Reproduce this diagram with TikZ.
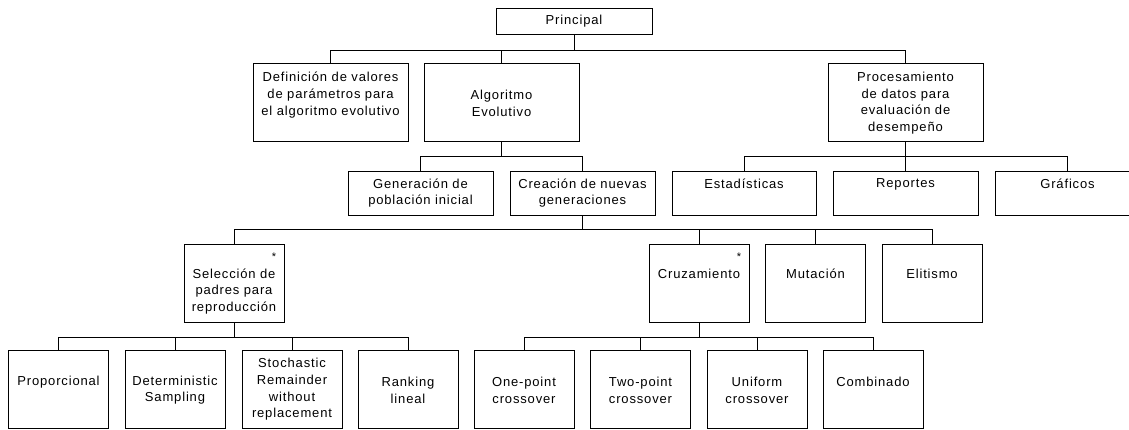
\documentclass[tikz,border=0pt]{standalone}
\usepackage{fontspec}
\setmainfont{Liberation Sans}[LetterSpace=6.5]
\begin{document}
\begin{tikzpicture}[x=1pt,y=-1pt,
  box/.style={draw=black, line width=1pt, fill=white, inner sep=0, outer sep=0},
  txt/.style={font=\fontsize{13}{16.7}\selectfont, align=center, inner sep=0},
  star/.style={font=\fontsize{11}{13}\selectfont, inner sep=0},
  conn/.style={draw=black, line width=1pt}]
\useasboundingbox[fill=white] (0,0) rectangle (1129,429);
\clip (0,0) rectangle (1129,429);
% boxes
\node[box, minimum width=156, minimum height=26] (pri) at (574,21) {};
\node[box, minimum width=155, minimum height=78] (def) at (330.5,102) {};
\node[box, minimum width=155, minimum height=78] (alg) at (501.5,102) {};
\node[box, minimum width=155, minimum height=78] (pro) at (905.5,102) {};
\node[box, minimum width=145, minimum height=44] (gen) at (420.5,193) {};
\node[box, minimum width=145, minimum height=44] (cre) at (582.5,193) {};
\node[box, minimum width=144, minimum height=44] (est) at (744,193) {};
\node[box, minimum width=145, minimum height=44] (rep) at (905.5,193) {};
\node[box, minimum width=145, minimum height=44] (gra) at (1067.5,193) {};
\node[box, minimum width=100, minimum height=78] (sel) at (234,283) {};
\node[box, minimum width=100, minimum height=78] (cru) at (699,283) {};
\node[box, minimum width=100, minimum height=78] (mut) at (815.5,283) {};
\node[box, minimum width=100, minimum height=78] (eli) at (932,283) {};
\node[box, minimum width=100, minimum height=78] (prp) at (58.5,389) {};
\node[box, minimum width=100, minimum height=78] (det) at (175,389) {};
\node[box, minimum width=100, minimum height=78] (sto) at (292,389) {};
\node[box, minimum width=100, minimum height=78] (ran) at (408,389) {};
\node[box, minimum width=100, minimum height=78] (one) at (524,389) {};
\node[box, minimum width=100, minimum height=78] (two) at (640.5,389) {};
\node[box, minimum width=100, minimum height=78] (uni) at (757,389) {};
\node[box, minimum width=100, minimum height=78] (com) at (873,389) {};
% texts
\node[txt] (pri-t) at (574,21) {Principal};
\node[txt] (def-t) at (330.5,95) {Definición de valores\\de parámetros para\\el algoritmo evolutivo};
\node[txt] (alg-t) at (501.5,103.5) {Algoritmo\\Evolutivo};
\node[txt] (pro-t) at (905.5,103) {Procesamiento\\de datos para\\evaluación de\\desempeño};
\node[txt] (gen-t) at (420.5,193) {Generación de\\población inicial};
\node[txt] (cre-t) at (582.5,193) {Creación de nuevas\\generaciones};
\node[txt] (est-t) at (744,184) {Estadísticas};
\node[txt] (rep-t) at (905.5,184) {Reportes};
\node[txt] (gra-t) at (1067.5,184) {Gráficos};
\node[txt] (sel-t) at (234,291.5) {Selección de\\padres para\\reproducción};
\node[txt] (cru-t) at (699,274) {Cruzamiento};
\node[txt] (mut-t) at (815.5,274) {Mutación};
\node[txt] (eli-t) at (932,274) {Elitismo};
\node[star] (sel-s) at (274,257) {*};
\node[star] (cru-s) at (739,257) {*};
\node[txt] (prp-t) at (58.5,382) {Proporcional};
\node[txt] (det-t) at (175,390) {Deterministic\\Sampling};
\node[txt] (sto-t) at (292,389.5) {Stochastic\\Remainder\\without\\replacement};
\node[txt] (ran-t) at (408,390) {Ranking\\lineal};
\node[txt] (one-t) at (524,390.5) {One-point\\crossover};
\node[txt] (two-t) at (640.5,390.5) {Two-point\\crossover};
\node[txt] (uni-t) at (757,390.5) {Uniform\\crossover};
\node[txt] (com-t) at (873,382) {Combinado};
% bus coordinates
\coordinate (b1) at (574,50);
\coordinate (b2) at (501.5,156);
\coordinate (b3) at (905.5,156);
\coordinate (b4) at (582.5,229);
\coordinate (b5) at (234,337);
\coordinate (b6) at (699,337);
% connectors
\foreach \c in {def,alg,pro} \draw[conn] (pri.south) |- (b1 -| \c.north) -- (\c.north);
\foreach \c in {gen,cre} \draw[conn] (alg.south) |- (b2 -| \c.north) -- (\c.north);
\foreach \c in {est,rep,gra} \draw[conn] (pro.south) |- (b3 -| \c.north) -- (\c.north);
\foreach \c in {sel,cru,mut,eli} \draw[conn] (cre.south) |- (b4 -| \c.north) -- (\c.north);
\foreach \c in {prp,det,sto,ran} \draw[conn] (sel.south) |- (b5 -| \c.north) -- (\c.north);
\foreach \c in {one,two,uni,com} \draw[conn] (cru.south) |- (b6 -| \c.north) -- (\c.north);
\end{tikzpicture}
\end{document}
